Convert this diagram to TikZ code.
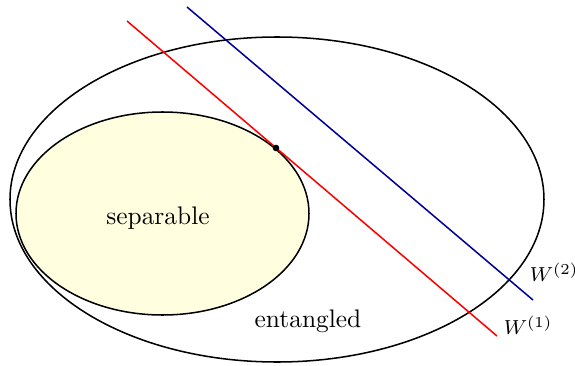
\documentclass[tikz,border=0pt]{standalone}
\usepackage{amsmath}
\usepackage{xcolor}
\usepackage{tikz}
\usetikzlibrary{calc}
\definecolor{AmarilloSep}{RGB}{255,255,224}
\definecolor{AzulTestigo}{RGB}{0,0,150}

\begin{document}
\begin{tikzpicture}[x=0.3937pt,y=-0.3937pt,line width=0.6pt]
  \useasboundingbox (0,0) rectangle (575,366);
  \draw (277,199.5) ellipse [x radius=267,y radius=162.5];
  \filldraw[fill=AmarilloSep] (162.5,213.5) ellipse [x radius=146.5,y radius=101.5];
  \node (sep) at (158,218) {separable};
  \node (ent) at (308,321) {entangled};
  \coordinate (t) at (276,148);
  \coordinate (r1) at (127,21);
  \coordinate (r2) at (497,336);
  \coordinate (b1) at (187,7);
  \coordinate (b2) at (533,300);
  \draw[red] (r1) -- (r2);
  \draw[AzulTestigo] (b1) -- (b2);
  \fill (t) circle (1.3pt);
  \node[font=\fontsize{8.2}{10}\selectfont,anchor=west,inner sep=0pt] (w1) at (503,325) {$W^{(1)}$};
  \node[font=\fontsize{8.2}{10}\selectfont,anchor=west,inner sep=0pt] (w2) at (529,272) {$W^{(2)}$};
\end{tikzpicture}
\end{document}
